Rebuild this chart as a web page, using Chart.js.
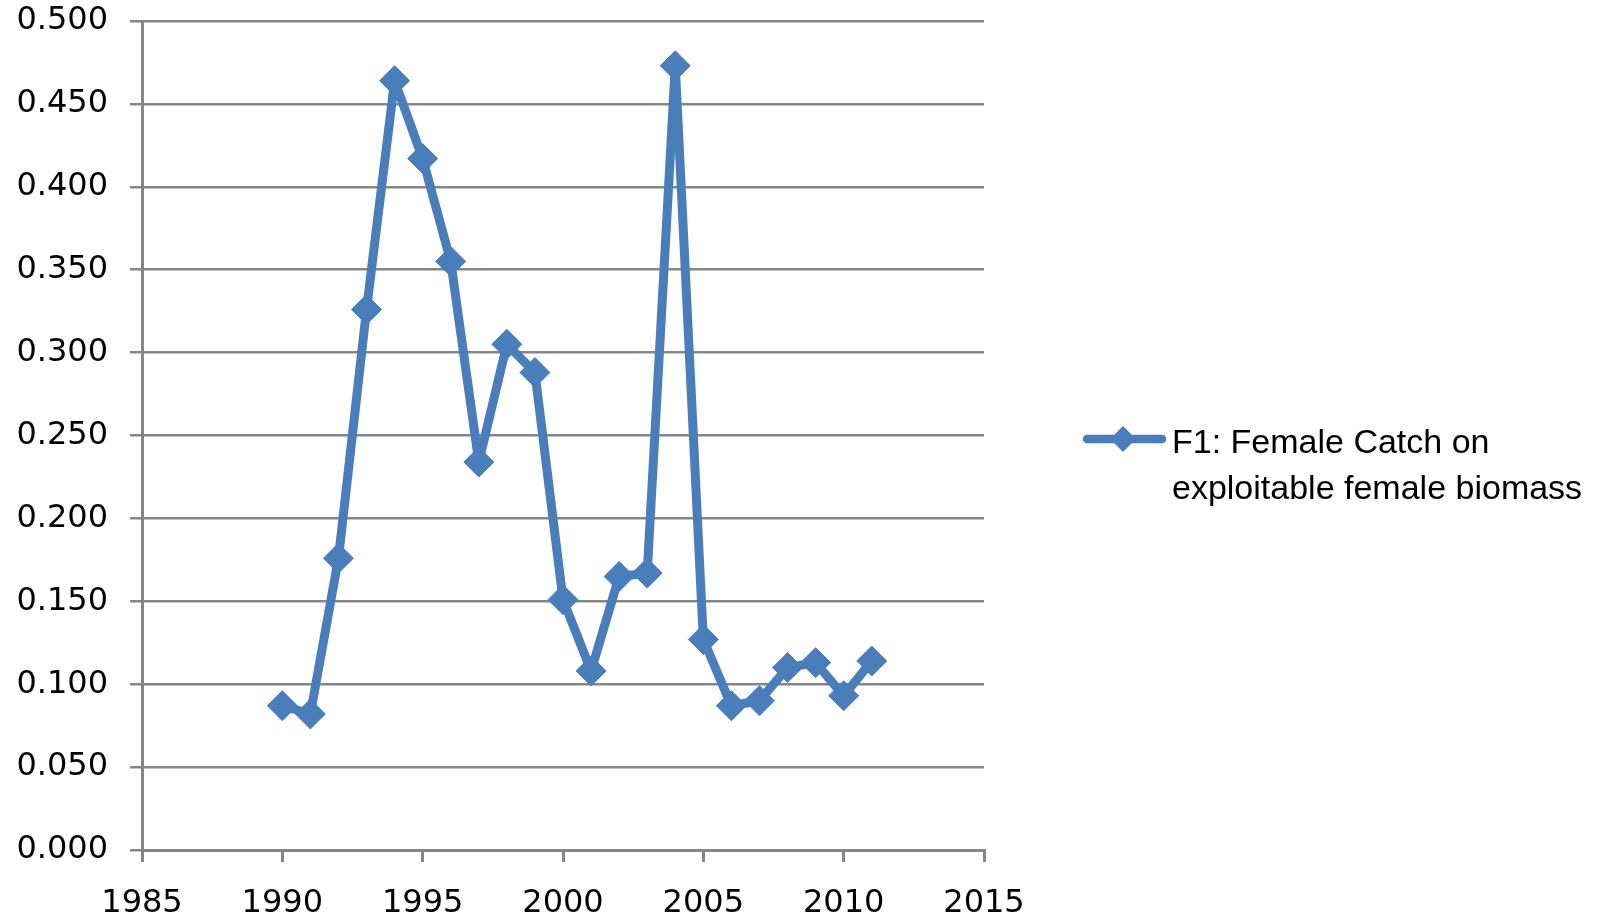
<!DOCTYPE html>
<html>
<head>
<meta charset="utf-8">
<script src="https://cdn.jsdelivr.net/npm/chart.js@4/dist/chart.umd.min.js"></script>
<style>
  body { margin: 0; background: #fff; }
  #wrap { width: 1621px; height: 920px; }
</style>
</head>
<body>
<div id="wrap"><canvas id="chart" width="1621" height="920"></canvas></div>
<script>
const years = [1990, 1991, 1992, 1993, 1994, 1995, 1996, 1997, 1998, 1999, 2000,
  2001, 2002, 2003, 2004, 2005, 2006, 2007, 2008, 2009, 2010, 2011];
const f1 = [0.087, 0.082, 0.176, 0.326, 0.464, 0.417, 0.355, 0.234, 0.305, 0.288, 0.151,
  0.108, 0.165, 0.167, 0.473, 0.127, 0.087, 0.090, 0.110, 0.113, 0.093, 0.114];
const seriesLabel = ["F1: Female Catch on", "exploitable female biomass"];
const xTicks = [1985, 2015, 5];
const yTicks = [0, 0.5, 0.05];

const blue = "#4a7ebb";
const gray = "#868686";

// legend on the right, drawn by hand because it wraps onto two lines
const sideLegend = {
  id: "sideLegend",
  afterDraw(chart) {
    const ctx = chart.ctx;
    const y = 439;
    ctx.save();
    ctx.strokeStyle = blue;
    ctx.lineWidth = 8.5;
    ctx.lineCap = "round";
    ctx.beginPath();
    ctx.moveTo(1087, y);
    ctx.lineTo(1162, y);
    ctx.stroke();
    ctx.fillStyle = blue;
    ctx.beginPath();
    ctx.moveTo(1123 - 13, y);
    ctx.lineTo(1123, y - 13);
    ctx.lineTo(1123 + 13, y);
    ctx.lineTo(1123, y + 13);
    ctx.closePath();
    ctx.fill();
    ctx.fillStyle = "#000";
    ctx.font = '34px "Liberation Sans", Arial, sans-serif';
    ctx.textBaseline = "alphabetic";
    ctx.fillText(seriesLabel[0], 1172, 453);
    ctx.fillText(seriesLabel[1], 1172, 499);
    ctx.restore();
  },
};

new Chart(document.getElementById("chart"), {
  type: "line",
  data: {
    datasets: [
      {
        label: seriesLabel.join(" "),
        data: years.map((yr, i) => ({ x: yr, y: f1[i] })),
        borderColor: blue,
        backgroundColor: blue,
        borderWidth: 9,
        borderJoinStyle: "round",
        borderCapStyle: "round",
        pointStyle: "rectRot",
        pointRadius: 15,
        pointBorderWidth: 1,
        pointBackgroundColor: blue,
        pointBorderColor: blue,
        tension: 0,
      },
    ],
  },
  options: {
    responsive: false,
    animation: false,
    layout: {
      padding: { top: 0, right: 637, left: 0, bottom: 0 },
    },
    scales: {
      x: {
        type: "linear",
        min: xTicks[0],
        max: xTicks[1],
        afterFit: (scale) => {
          scale.height = 70;
        },
        ticks: {
          stepSize: xTicks[2],
          color: "#000",
          padding: 22,
          font: { family: '"DejaVu Sans", sans-serif', size: 32 },
          callback: (v) => String(v),
        },
        grid: {
          drawOnChartArea: false,
          drawTicks: true,
          tickLength: 12,
          color: gray,
          lineWidth: 3,
        },
        border: { display: true, color: gray, width: 3 },
      },
      y: {
        min: yTicks[0],
        max: yTicks[1],
        afterFit: (scale) => {
          scale.width = 142;
          scale.paddingTop = 21;
        },
        ticks: {
          stepSize: yTicks[2],
          color: "#000",
          padding: 22,
          font: { family: '"DejaVu Sans", sans-serif', size: 32 },
          callback: (v) => v.toFixed(3),
        },
        grid: {
          drawTicks: true,
          tickLength: 12,
          color: gray,
          lineWidth: 2.5,
        },
        border: { display: true, color: gray, width: 3 },
      },
    },
    plugins: {
      legend: { display: false },
      tooltip: { enabled: false },
    },
  },
  plugins: [sideLegend],
});
</script>
</body>
</html>
